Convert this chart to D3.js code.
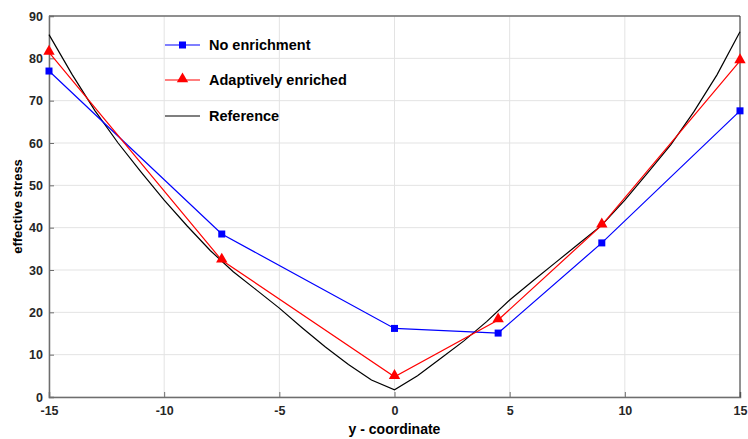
<!DOCTYPE html>
<html>
<head>
<meta charset="utf-8">
<script src="https://cdn.jsdelivr.net/npm/d3@7"></script>
<style>
  body { margin: 0; background: #fff; }
  svg { font-family: "Liberation Sans", Arial, sans-serif; }
</style>
</head>
<body>
<div id="chart"></div>
<script>
// sample positions (y - coordinate) of the two computed series
const samplePos = [-15, -7.5, 0, 4.5, 9, 15];
const noEnrichment = [77.0, 38.5, 16.2, 15.1, 36.4, 67.6];
const adaptive = [81.4, 32.3, 4.8, 18.2, 40.6, 79.4];

// reference solution, one value per unit step
const refPos = d3.range(-15, 16);
const refValues = [85.6, 76.2, 67.6, 60.0, 53.1, 46.5, 40.4, 34.6, 29.6, 25.3, 21.0,
                   16.3, 11.8, 7.7, 4.0, 1.7, 5.0, 9.1, 13.2, 17.8, 22.9, 27.4,
                   31.8, 36.2, 40.6, 46.5, 53.0, 59.6, 67.4, 76.1, 86.3];

const xTicks = [-15, -10, -5, 0, 5, 10, 15];
const yTicks = [0, 10, 20, 30, 40, 50, 60, 70, 80, 90];

const width = 748, height = 439;
const margin = {left: 49, right: 8, top: 16, bottom: 42};

const svg = d3.select("#chart").append("svg")
    .attr("width", width)
    .attr("height", height);

const x = d3.scaleLinear().domain([-15, 15]).range([margin.left, width - margin.right]);
const y = d3.scaleLinear().domain([0, 90]).range([height - margin.bottom, margin.top]);

// grid
svg.append("g").selectAll("line").data(xTicks).enter().append("line")
    .attr("x1", d => x(d)).attr("x2", d => x(d))
    .attr("y1", y(0)).attr("y2", y(90))
    .attr("stroke", "#e3e3e3").attr("stroke-width", 1);
svg.append("g").selectAll("line").data(yTicks).enter().append("line")
    .attr("x1", x(-15)).attr("x2", x(15))
    .attr("y1", d => y(d)).attr("y2", d => y(d))
    .attr("stroke", "#e3e3e3").attr("stroke-width", 1);

// axes, ticks pointing inward
const xAxis = svg.append("g")
    .attr("transform", `translate(0,${y(0)})`)
    .call(d3.axisBottom(x).tickValues(xTicks).tickSize(-5).tickPadding(9).tickFormat(d => String(d)));
const yAxis = svg.append("g")
    .attr("transform", `translate(${x(-15)},0)`)
    .call(d3.axisLeft(y).tickValues(yTicks).tickSize(-5).tickPadding(6).tickFormat(d => String(d)));

[xAxis, yAxis].forEach(a => {
    a.select(".domain").attr("stroke", "#6e6e6e").attr("stroke-width", 1.5);
    a.selectAll(".tick line").attr("stroke", "#6e6e6e");
    a.selectAll(".tick text")
        .attr("fill", "#262626")
        .style("font-size", "12.5px")
        .style("font-weight", "bold")
        .style("font-family", "Liberation Sans, Arial, sans-serif");
});

// top and right box lines
svg.append("line")
    .attr("x1", x(-15)).attr("x2", x(15)).attr("y1", y(90)).attr("y2", y(90))
    .attr("stroke", "#6e6e6e").attr("stroke-width", 1.5);
svg.append("line")
    .attr("x1", x(15)).attr("x2", x(15)).attr("y1", y(90)).attr("y2", y(0))
    .attr("stroke", "#333").attr("stroke-width", 1);

const line = d3.line().x(d => x(d[0])).y(d => y(d[1]));

// reference curve
svg.append("path")
    .datum(refPos.map((p, i) => [p, refValues[i]]))
    .attr("fill", "none").attr("stroke", "#000").attr("stroke-width", 1.2)
    .attr("d", line);

// no enrichment
const blueData = samplePos.map((p, i) => [p, noEnrichment[i]]);
svg.append("path")
    .datum(blueData)
    .attr("fill", "none").attr("stroke", "#0000ff").attr("stroke-width", 1.2)
    .attr("d", line);
svg.append("g").selectAll("rect").data(blueData).enter().append("rect")
    .attr("x", d => x(d[0]) - 3.5).attr("y", d => y(d[1]) - 3.5)
    .attr("width", 7).attr("height", 7)
    .attr("fill", "#0000ff");

// adaptively enriched
const redData = samplePos.map((p, i) => [p, adaptive[i]]);
const tri = d3.symbol().type(d3.symbolTriangle).size(56);
svg.append("path")
    .datum(redData)
    .attr("fill", "none").attr("stroke", "#ff0000").attr("stroke-width", 1.2)
    .attr("d", line);
svg.append("g").selectAll("path").data(redData).enter().append("path")
    .attr("transform", d => `translate(${x(d[0])},${y(d[1]) - 1})`)
    .attr("d", tri)
    .attr("fill", "#ff0000");

// legend
const legend = svg.append("g").attr("transform", "translate(165,0)");
const items = [
    {name: "No enrichment", color: "#0000ff", marker: "square", yy: 45},
    {name: "Adaptively enriched", color: "#ff0000", marker: "triangle", yy: 80},
    {name: "Reference", color: "#000", marker: null, yy: 116}
];
items.forEach(it => {
    legend.append("line")
        .attr("x1", 0).attr("x2", 35).attr("y1", it.yy).attr("y2", it.yy)
        .attr("stroke", it.color).attr("stroke-width", 1.2);
    if (it.marker === "square") {
        legend.append("rect")
            .attr("x", 14).attr("y", it.yy - 3.5).attr("width", 7).attr("height", 7)
            .attr("fill", it.color);
    } else if (it.marker === "triangle") {
        legend.append("path")
            .attr("transform", `translate(17.5,${it.yy - 1})`)
            .attr("d", tri).attr("fill", it.color);
    }
    legend.append("text")
        .attr("x", 44).attr("y", it.yy + 5)
        .style("font-size", "14.5px").style("font-weight", "bold")
        .attr("fill", "#000")
        .text(it.name);
});

// axis labels
svg.append("text")
    .attr("x", x(0)).attr("y", 434)
    .attr("text-anchor", "middle")
    .style("font-size", "14px").style("font-weight", "bold")
    .text("y - coordinate");

svg.append("text")
    .attr("transform", `translate(22,${(y(0) + y(90)) / 2}) rotate(-90)`)
    .attr("text-anchor", "middle")
    .style("font-size", "13px").style("font-weight", "bold")
    .text("effective stress");
</script>
</body>
</html>
